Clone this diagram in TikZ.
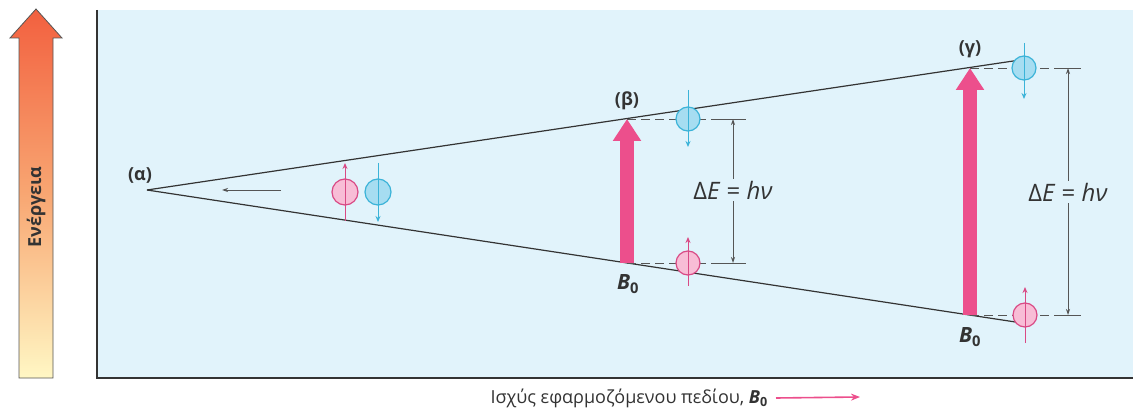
\documentclass[tikz,border=0pt]{standalone}
\usepackage{fontspec}
\setmainfont{Open Sans}
\usetikzlibrary{arrows.meta}
\definecolor{panel}{HTML}{E1F3FB}
\definecolor{hot}{HTML}{EC4F8C}
\definecolor{pinkfill}{HTML}{F8BDD6}
\definecolor{pinkline}{HTML}{D94A85}
\definecolor{bluefill}{HTML}{A6DDF1}
\definecolor{blueline}{HTML}{3BB3D8}
\definecolor{ink}{HTML}{333333}
\definecolor{dimgray}{HTML}{555555}
\definecolor{entop}{HTML}{F2603F}
\definecolor{enmid}{HTML}{F8A672}
\definecolor{enbot}{HTML}{FFF7C4}
\begin{document}
\begin{tikzpicture}[x=1pt,y=-1pt,
  spinup/.style={circle,draw=pinkline,fill=pinkfill,line width=1.2pt,minimum size=24pt,inner sep=0pt},
  spindown/.style={circle,draw=blueline,fill=bluefill,line width=1.2pt,minimum size=24pt,inner sep=0pt},
  uparr/.style={pinkline,line width=1pt,-{Stealth[length=6pt,width=5pt]}},
  downarr/.style={blueline,line width=1pt,-{Stealth[length=6pt,width=5pt]}},
  bigarr/.style={hot,line width=14pt,-{Triangle[length=22pt,width=27pt]}},
  level/.style={ink,line width=1.2pt},
  dashlevel/.style={dimgray,line width=0.8pt,dash pattern=on 9pt off 5pt},
  dimarr/.style={dimgray,line width=0.8pt,-{Stealth[length=6pt,width=4pt]}},
  tick/.style={dimgray,line width=0.8pt},
  tag/.style={font=\fontsize{18}{20}\selectfont\bfseries,text=ink,inner sep=1pt},
  bzero/.style={font=\fontsize{21}{23}\selectfont\bfseries,text=ink,inner sep=1pt},
  delta/.style={font=\fontsize{24}{26}\selectfont,text=ink,inner sep=2pt},
  axis/.style={ink,line width=2.5pt}
]
\useasboundingbox (0,0) rectangle (1133,414);
% energy arrow
\shade[top color=entop,bottom color=enbot,middle color=enmid,draw=dimgray,line width=0.8pt]
  (19,378) -- (19,38) -- (10,38) -- (36,9) -- (62,38) -- (53,38) -- (53,378) -- cycle;
\node[rotate=90,font=\fontsize{18}{20}\selectfont\bfseries,text=ink] (energy) at (36,207) {Ενέργεια};
% panel
\fill[panel] (96,10) rectangle (1133,378);
\coordinate (axtop) at (97,10);
\coordinate (axorig) at (97,378);
\coordinate (axright) at (1133,378);
\draw[axis] (axtop) -- (axorig) -- (axright);
% levels
\coordinate (apex) at (147,190);
\coordinate (upend) at (1020,60);
\coordinate (loend) at (1022,323);
\draw[level] (apex) -- (upend);
\draw[level] (apex) -- (loend);
\node[tag] (la) at (140,175) {(α)};
% small arrow
\coordinate (sa1) at (281,190);
\coordinate (sa2) at (222,190);
\draw[dimgray,line width=0.8pt,-{Stealth[length=6pt,width=4pt]}] (sa1) -- (sa2);
% alpha spins
\node[spinup,minimum size=26pt] (pa) at (345,192) {};
\coordinate (pa1) at (345,221);
\coordinate (pa2) at (345,163);
\draw[uparr] (pa1) -- (pa2);
\node[spindown,minimum size=26pt] (ba) at (378,192) {};
\coordinate (ba1) at (378,163);
\coordinate (ba2) at (378,222);
\draw[downarr] (ba1) -- (ba2);
% beta
\coordinate (bb) at (627,263);
\coordinate (bt) at (627,119);
\coordinate (bdt) at (746,119);
\coordinate (bdb) at (746,263);
\draw[dashlevel] (bt) -- (bdt);
\draw[dashlevel] (bb) -- (bdb);
\draw[tick] (720,119) -- (bdt);
\draw[tick] (720,263) -- (bdb);
\draw[bigarr] (bb) -- (bt);
\node[tag] (lb) at (627,101) {(β)};
\node[bzero] (b0b) at (628,284) {\textit{B}\textsubscript{0}};
\node[spindown] (bbl) at (688,119) {};
\coordinate (bbl1) at (688,90);
\coordinate (bbl2) at (688,147);
\draw[downarr] (bbl1) -- (bbl2);
\node[spinup] (bpk) at (688,263) {};
\coordinate (bpk1) at (688,286);
\coordinate (bpk2) at (688,237);
\draw[uparr] (bpk1) -- (bpk2);
\node[delta] (de1) at (733,190) {Δ\textit{E} = \textit{hν}};
\coordinate (de1t) at (733,119);
\coordinate (de1b) at (733,263);
\draw[dimarr] (de1.north) -- (de1t);
\draw[dimarr] (de1.south) -- (de1b);
% gamma
\coordinate (gb) at (970,315);
\coordinate (gt) at (970,68);
\coordinate (gdt) at (1081,68);
\coordinate (gdb) at (1081,315);
\draw[dashlevel] (gt) -- (gdt);
\draw[dashlevel] (gb) -- (gdb);
\draw[tick] (1055,68) -- (gdt);
\draw[tick] (1055,315) -- (gdb);
\draw[bigarr] (gb) -- (gt);
\node[tag] (lg) at (970,49) {(γ)};
\node[bzero] (b0g) at (970,337) {\textit{B}\textsubscript{0}};
\node[spindown] (gbl) at (1024,68) {};
\coordinate (gbl1) at (1024,43);
\coordinate (gbl2) at (1024,99);
\draw[downarr] (gbl1) -- (gbl2);
\node[spinup] (gpk) at (1025,315) {};
\coordinate (gpk1) at (1025,343);
\coordinate (gpk2) at (1025,287);
\draw[uparr] (gpk1) -- (gpk2);
\node[delta] (de2) at (1068,192) {Δ\textit{E} = \textit{hν}};
\coordinate (de2t) at (1068,68);
\coordinate (de2b) at (1068,315);
\draw[dimarr] (de2.north) -- (de2t);
\draw[dimarr] (de2.south) -- (de2b);
% bottom label
\node[anchor=east,font=\fontsize{18}{20}\selectfont,text=ink,inner sep=0pt] (xlab) at (768,398) {Ισχύς εφαρμοζόμενου πεδίου, \textbf{\textit{B}\textsubscript{0}}};
\coordinate (xarr) at (860,397);
\draw[hot,line width=1.6pt,-{Stealth[length=9pt,width=7pt]}] ([xshift=8pt]xlab.east) -- (xarr);
\end{tikzpicture}
\end{document}
